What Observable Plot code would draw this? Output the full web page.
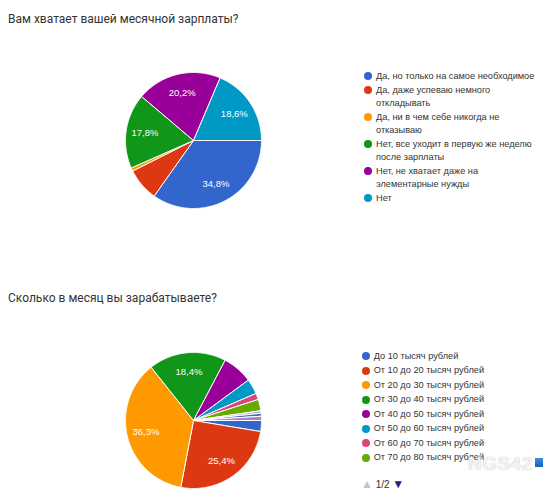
<!DOCTYPE html>
<html><head><meta charset="utf-8">
<script src="https://cdn.jsdelivr.net/npm/d3@7"></script>
<script src="https://cdn.jsdelivr.net/npm/@observablehq/plot@0.6"></script>
<style>
body{margin:0;background:#fff;width:543px;height:490px;position:relative;overflow:hidden;font-family:Arial,"Liberation Sans",sans-serif;}
.title{position:absolute;left:8px;font-family:Roboto,sans-serif;font-size:12px;line-height:15px;color:#333;white-space:nowrap;}
.pie{position:absolute;}
.legend{position:absolute;font-size:9.2px;color:#333;}
.item{display:flex;align-items:flex-start;line-height:12.5px;margin-bottom:2px;}
.dot{width:8px;height:8px;border-radius:50%;flex:none;margin-top:2.25px;margin-right:4px;}
.pager{position:absolute;left:361px;top:477px;font-size:10px;color:#333;line-height:14px;white-space:nowrap;}
.pager .tri{font-size:12px;}
.wm{position:absolute;left:468px;top:453px;font-size:19px;font-weight:bold;color:#f2f2f2;text-shadow:0 0 1px #bbb;letter-spacing:0.5px;}
</style>
</head><body>
<script>
// ---- Chart 1 data ----
const title1 = "Вам хватает вашей месячной зарплаты?";
const cats1 = [
  "Да, но только на самое необходимое",
  "Да, даже успеваю немного откладывать",
  "Да, ни в чем себе никогда не отказываю",
  "Нет, все уходит в первую же неделю после зарплаты",
  "Нет, не хватает даже на элементарные нужды",
  "Нет"
];
const vals1 = [34.8, 7.8, 0.8, 17.8, 20.2, 18.6];
const colors1 = ["#3366cc", "#dc3912", "#ff9900", "#109618", "#990099", "#0099c6"];

// ---- Chart 2 data ----
const title2 = "Сколько в месяц вы зарабатываете?";
const cats2 = [
  "До 10 тысяч рублей",
  "От 10 до 20 тысяч рублей",
  "От 20 до 30 тысяч рублей",
  "От 30 до 40 тысяч рублей",
  "От 40 до 50 тысяч рублей",
  "От 50 до 60 тысяч рублей",
  "От 60 до 70 тысяч рублей",
  "От 70 до 80 тысяч рублей",
  "От 80 до 90 тысяч рублей",
  "От 90 до 100 тысяч рублей",
  "Более 100 тысяч рублей"
];
const vals2 = [2.6, 25.4, 36.3, 18.4, 7.2, 3.6, 1.5, 2.7, 0.6, 0.7, 1.0];
const colors2 = ["#3366cc", "#dc3912", "#ff9900", "#109618", "#990099", "#0099c6", "#dd4477", "#66aa00", "#b9b0da", "#5b5fb4", "#9a8ac6"];
const legendShown2 = 8;
const pageLabel = "1/2";
const watermark = "NGS42";

const fmt = v => d3.format(".1f")(v).replace(".", ",") + "%";

function pie(vals, colors) {
  const arcs = d3.pie().sort(null).startAngle(Math.PI / 2).endAngle(Math.PI / 2 + 2 * Math.PI)(vals);
  const rows = [];
  const labels = [];
  arcs.forEach((a, i) => {
    rows.push({slice: i, x: 0, y: 0, color: colors[i]});
    const n = Math.max(2, Math.ceil((a.endAngle - a.startAngle) / (Math.PI / 360)));
    for (let k = 0; k <= n; k++) {
      const t = a.startAngle + (a.endAngle - a.startAngle) * k / n;
      rows.push({slice: i, x: Math.sin(t), y: Math.cos(t), color: colors[i]});
    }
    rows.push({slice: i, x: 0, y: 0, color: colors[i]});
    if (vals[i] >= 10) {
      const m = (a.startAngle + a.endAngle) / 2;
      labels.push({x: 0.72 * Math.sin(m), y: 0.72 * Math.cos(m), text: fmt(vals[i])});
    }
  });
  return Plot.plot({
    width: 140, height: 140, margin: 2,
    x: {domain: [-1, 1], axis: null},
    y: {domain: [-1, 1], axis: null},
    color: {type: "identity"},
    style: {background: "transparent", overflow: "visible"},
    marks: [
      Plot.line(rows, {x: "x", y: "y", z: "slice", fill: "color", stroke: "white", strokeWidth: 1, curve: "linear"}),
      Plot.text(labels, {x: "x", y: "y", text: "text", fill: "white", fontSize: 9.5, fontFamily: "Arial, Liberation Sans, sans-serif"})
    ]
  });
}

function addTitle(text, top) {
  const d = document.createElement("div");
  d.className = "title"; d.style.top = top + "px"; d.textContent = text;
  document.body.appendChild(d);
}
function addPie(svg, left, top) {
  const d = document.createElement("div");
  d.className = "pie"; d.style.left = left + "px"; d.style.top = top + "px";
  d.appendChild(svg); document.body.appendChild(d);
}
function addLegend(cats, colors, n, left, top, width) {
  const L = document.createElement("div");
  L.className = "legend"; L.style.left = left + "px"; L.style.top = top + "px"; L.style.width = width + "px";
  for (let i = 0; i < n; i++) {
    const it = document.createElement("div"); it.className = "item";
    const dot = document.createElement("span"); dot.className = "dot"; dot.style.background = colors[i];
    const lab = document.createElement("span"); lab.textContent = cats[i];
    it.appendChild(dot); it.appendChild(lab); L.appendChild(it);
  }
  document.body.appendChild(L);
}

addTitle(title1, 11.5);
addPie(pie(vals1, colors1), 122.5, 70);
addLegend(cats1, colors1, cats1.length, 364, 69.5, 176);

addTitle(title2, 291);
addPie(pie(vals2, colors2), 122.5, 350);
addLegend(cats2, colors2, legendShown2, 361.7, 349.8, 176);

const wm = document.createElement("div"); wm.className = "wm"; wm.textContent = watermark; document.body.appendChild(wm);
const blue = document.createElement("div");
blue.style.cssText = "position:absolute;left:535px;top:458px;width:8px;height:9px;background:linear-gradient(#3f8fe0,#1560c0);";
document.body.appendChild(blue);

const pg = document.createElement("div"); pg.className = "pager";
pg.innerHTML = '<span class="tri" style="color:#c4c4c4">▲</span> ' + pageLabel + ' <span class="tri" style="color:#1a237e">▼</span>';
document.body.appendChild(pg);
</script>
</body></html>
